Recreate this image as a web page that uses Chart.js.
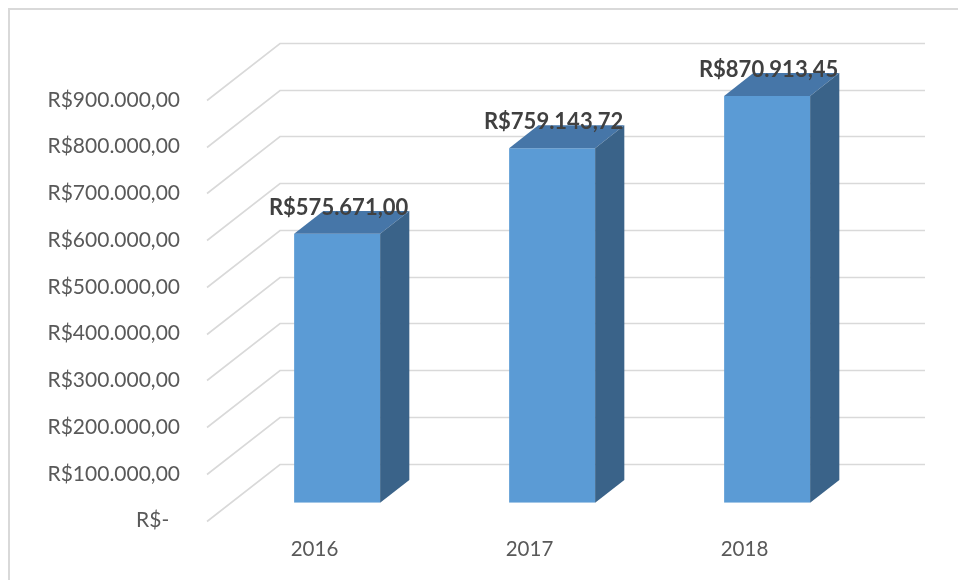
<!DOCTYPE html>
<html>
<head>
<meta charset="utf-8">
<script src="https://cdn.jsdelivr.net/npm/chart.js@4/dist/chart.umd.min.js"></script>
<style>
  html, body { margin: 0; padding: 0; background: #ffffff; }
  #wrap { width: 958px; height: 580px; }
</style>
</head>
<body>
<div id="wrap"><canvas id="c" width="958" height="580"></canvas></div>
<script>
// ---- data ----
const categories = ['2016', '2017', '2018'];
const revenue = [575671.00, 759143.72, 870913.45];
const valueLabels = ['R$575.671,00', 'R$759.143,72', 'R$870.913,45'];
const yTickValues = [0, 100000, 200000, 300000, 400000, 500000, 600000, 700000, 800000, 900000];
const yTickLabels = ['R$-  ', 'R$100.000,00', 'R$200.000,00', 'R$300.000,00', 'R$400.000,00',
                     'R$500.000,00', 'R$600.000,00', 'R$700.000,00', 'R$800.000,00', 'R$900.000,00'];

// ---- 3D look (oblique projection) ----
const DEPTH_DX = 73, DEPTH_DY = -57;   // full floor depth vector
const BAR_FRONT = 0.31, BAR_DEPTH = 0.40;
const FRONT_COLOR = '#5B9BD5', TOP_COLOR = '#4676A8', SIDE_COLOR = '#3A6389';
const GRID_COLOR = '#D9D9D9';

const threeD = {
  id: 'threeD',
  beforeDraw(chart) {
    const ctx = chart.ctx;
    ctx.save();
    ctx.strokeStyle = GRID_COLOR;
    ctx.lineWidth = 2;
    ctx.strokeRect(9, 9, 1200, 1200);
    ctx.restore();
  },
  beforeDatasetsDraw(chart) {
    const ctx = chart.ctx, ys = chart.scales.y, a = chart.chartArea;
    ctx.save();
    ctx.strokeStyle = GRID_COLOR;
    ctx.lineWidth = 1.6;
    ctx.beginPath();
    yTickValues.forEach(v => {
      const yf = Math.round(ys.getPixelForValue(v)) + 0.5;
      ctx.moveTo(a.left, yf);
      ctx.lineTo(a.left + DEPTH_DX, yf + DEPTH_DY);
      ctx.lineTo(a.right + DEPTH_DX, yf + DEPTH_DY);
    });
    ctx.stroke();
    ctx.restore();
    ctx.save();
    ctx.translate(DEPTH_DX * BAR_FRONT, DEPTH_DY * BAR_FRONT);
  },
  afterDatasetsDraw(chart) {
    const ctx = chart.ctx;
    const sdx = DEPTH_DX * BAR_DEPTH, sdy = DEPTH_DY * BAR_DEPTH;
    const meta = chart.getDatasetMeta(0);
    meta.data.forEach(el => {
      const p = el.getProps(['x', 'y', 'base', 'width'], true);
      const l = p.x - p.width / 2, r = p.x + p.width / 2;
      ctx.fillStyle = TOP_COLOR;
      ctx.beginPath();
      ctx.moveTo(l, p.y); ctx.lineTo(r, p.y);
      ctx.lineTo(r + sdx, p.y + sdy); ctx.lineTo(l + sdx, p.y + sdy);
      ctx.closePath(); ctx.fill();
      ctx.fillStyle = SIDE_COLOR;
      ctx.beginPath();
      ctx.moveTo(r, p.y); ctx.lineTo(r + sdx, p.y + sdy);
      ctx.lineTo(r + sdx, p.base + sdy); ctx.lineTo(r, p.base);
      ctx.closePath(); ctx.fill();
    });
    // data labels
    ctx.fillStyle = '#404040';
    ctx.font = 'bold 22px Lato';
    ctx.textAlign = 'center';
    ctx.textBaseline = 'alphabetic';
    meta.data.forEach((el, i) => {
      const p = el.getProps(['x', 'y'], true);
      ctx.fillText(valueLabels[i], p.x + 1.5, p.y + sdy + 4);
    });
    ctx.restore();
  }
};

new Chart(document.getElementById('c'), {
  type: 'bar',
  data: {
    labels: categories,
    datasets: [{
      data: revenue,
      backgroundColor: FRONT_COLOR,
      borderWidth: 0,
      barPercentage: 0.4,
      categoryPercentage: 1.0
    }]
  },
  options: {
    responsive: false,
    animation: false,
    events: [],
    layout: { padding: { left: 0, right: 106, top: 100, bottom: 0 } },
    plugins: { legend: { display: false }, tooltip: { enabled: false } },
    scales: {
      x: {
        grid: { display: false, drawTicks: false },
        border: { display: false },
        ticks: { color: '#595959', font: { family: 'Lato', size: 20.5 }, padding: 17 },
        afterFit(s) { s.height = 59.5; }
      },
      y: {
        min: 0, max: 900000,
        afterBuildTicks(s) { s.ticks = yTickValues.map(v => ({ value: v })); },
        grid: { display: false, drawTicks: false },
        border: { display: false },
        ticks: {
          color: '#595959', font: { family: 'Lato', size: 21 }, padding: 27,
          callback(v, i) { return yTickLabels[i]; }
        },
        afterFit(s) { s.width = 207; }
      }
    }
  },
  plugins: [threeD]
});
</script>
</body>
</html>
